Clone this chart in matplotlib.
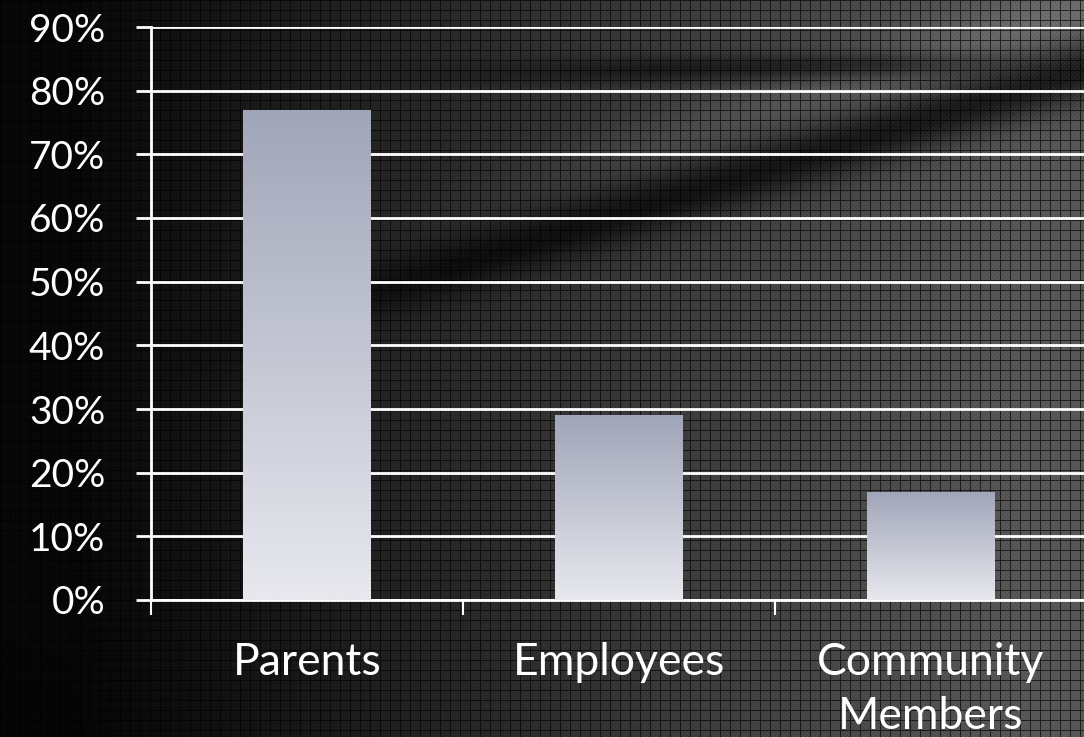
import numpy as np
import matplotlib.pyplot as plt
from matplotlib.colors import LinearSegmentedColormap

categories = ["Parents", "Employees", "Community\nMembers"]
shares = [77, 29, 17]
yticks = list(range(0, 100, 10))
ytick_labels = [f"{v}%" for v in yticks]

W, H = 1084, 737
fig = plt.figure(figsize=(W / 100, H / 100), dpi=100)

# background: dark-to-grey sweep with diagonal streaks and a fine grid texture
yy, xx = np.mgrid[0:H, 0:W].astype(float)
tex = 0.03 + 0.30 * np.clip((xx - 80) / 950, 0, 1) ** 0.9
tex *= 1 - 0.35 * np.clip((yy - 450) / 300, 0, 1) * np.clip(1 - xx / 700, 0, 1)
# dark streak rising from left-middle to upper right
d1 = yy - (360 - 0.31 * (xx - 150))
tex *= 1 - 0.7 * np.exp(-(d1 / 30) ** 2) * np.clip((xx - 150) / 300, 0, 1)
# lighter band just above it
tex *= 1 + 0.25 * np.exp(-((d1 + 60) / 35) ** 2) * np.clip((xx - 300) / 400, 0, 1)
# upper dark streak
d2 = yy - (70 - 0.02 * (xx - 600))
tex *= 1 - 0.55 * np.exp(-(d2 / 14) ** 2) * np.clip((xx - 350) / 300, 0, 1) * np.clip((1080 - xx) / 200, 0, 1)
checker = ((xx // 2 + yy // 2) % 2) * 0.025
tex = tex + checker * np.clip(xx / W, 0.2, 1)
grid_mask = (xx % 10 == 0) | (yy % 10 == 0)
tex = np.where(grid_mask, tex * 0.35, tex)
tex = np.clip(tex, 0, 1)

bg = fig.add_axes([0, 0, 1, 1])
bg.imshow(tex, cmap="gray", vmin=0, vmax=1, aspect="auto", interpolation="nearest")
bg.axis("off")

ax = fig.add_axes([151 / W, 1 - 600 / H, (1087 - 151) / W, 573 / H])
ax.set_facecolor("none")

x = np.arange(len(categories))
bars = ax.bar(x, shares, width=0.41, color="none", zorder=3)
grad = LinearSegmentedColormap.from_list("bar", ["#e8e8ee", "#a0a5b8"])
for b in bars:
    im = ax.imshow(np.linspace(0, 1, 256).reshape(-1, 1), cmap=grad, origin="lower",
                   aspect="auto", zorder=3,
                   extent=[b.get_x(), b.get_x() + b.get_width(), 0, b.get_height()])
    im.set_clip_path(b)

ax.set_xlim(-0.5, 2.5)
ax.set_ylim(0, 90)

ax.set_yticks(yticks)
ax.set_yticklabels(ytick_labels, fontsize=28, color="white",
                   family=["Lato", "DejaVu Sans"])
ax.yaxis.grid(True, color="white", lw=2, zorder=1)
ax.tick_params(axis="y", length=11, width=2, color="white", pad=22)

ax.set_xticks([-0.5, 0.5, 1.5])
ax.set_xticklabels([])
ax.tick_params(axis="x", which="major", length=11, width=1.5, color="white")
ax.set_xticks(x, minor=True)
ax.set_xticklabels(categories, minor=True, fontsize=32, color="white",
                   family=["Lato", "DejaVu Sans"], linespacing=1.4)
ax.tick_params(axis="x", which="minor", length=0, pad=30)

for s in ["top", "right"]:
    ax.spines[s].set_visible(False)
ax.spines["left"].set_color("white")
ax.spines["left"].set_linewidth(2)
ax.spines["bottom"].set_color("white")
ax.spines["bottom"].set_linewidth(2)
ax.set_axisbelow(True)

fig.savefig("out.png", dpi=100)
